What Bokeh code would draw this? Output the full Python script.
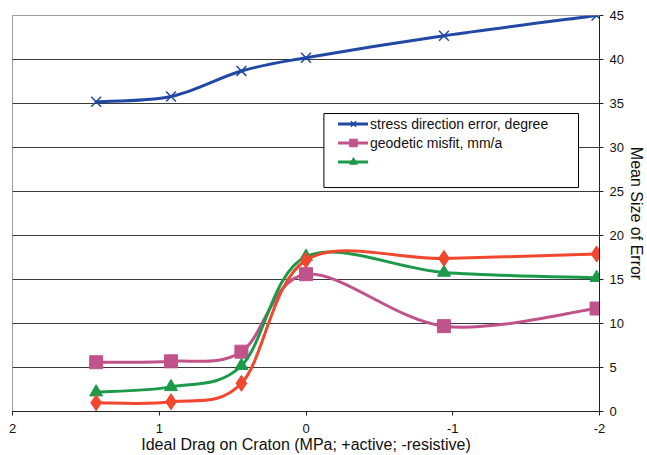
from bokeh.plotting import figure
from bokeh.models import Range1d, FixedTicker, Legend, LegendItem, BoxAnnotation
from bokeh.embed import file_html
from bokeh.resources import INLINE

# ---- data ----
drag = [1.43, 0.92, 0.44, 0.0, -0.94, -1.98]
stress_error = [35.2, 35.8, 38.7, 40.2, 42.7, 45.0]
geodetic_misfit = [5.6, 5.7, 6.8, 15.6, 9.7, 11.7]
green_series = [2.2, 2.8, 5.2, 17.6, 15.8, 15.2]
red_series = [1.0, 1.1, 3.2, 17.2, 17.4, 17.9]

x_ticks = [2, 1, 0, -1, -2]
x_tick_labels = ["2", "1", "0", "-1", "-2"]
y_ticks = [0, 5, 10, 15, 20, 25, 30, 35, 40, 45]

labels = ["stress direction error, degree", "geodetic misfit, mm/a", ""]
x_title = "Ideal Drag on Craton (MPa; +active; -resistive)"
y_title = "Mean Size of Error"

BLUE = "#2049a6"
PINK = "#c1538b"
GREEN = "#1c9a4a"
RED = "#f0472e"
FONT = "Liberation Sans"


def smooth_segments(xs, ys):
    """Catmull-Rom style bezier segments (like a spreadsheet 'smoothed line')."""
    n = len(xs)
    d = dict(x0=[], y0=[], x1=[], y1=[], cx0=[], cy0=[], cx1=[], cy1=[])
    for i in range(n - 1):
        a = i - 1 if i > 0 else i
        b = i + 2 if i + 2 < n else i + 1
        d["x0"].append(xs[i]); d["y0"].append(ys[i])
        d["x1"].append(xs[i + 1]); d["y1"].append(ys[i + 1])
        d["cx0"].append(xs[i] + (xs[i + 1] - xs[a]) / 6.0)
        d["cy0"].append(ys[i] + (ys[i + 1] - ys[a]) / 6.0)
        d["cx1"].append(xs[i + 1] - (xs[b] - xs[i]) / 6.0)
        d["cy1"].append(ys[i + 1] - (ys[b] - ys[i]) / 6.0)
    return d


p = figure(width=647, height=455, output_backend="svg", toolbar_location=None,
           x_range=Range1d(2, -2), y_range=Range1d(0, 45),
           y_axis_location="right",
           min_border_left=12, min_border_top=15, min_border_right=47, min_border_bottom=44)

p.outline_line_color = "#9a9a9a"
p.outline_line_width = 1
p.background_fill_color = "white"
p.border_fill_color = "white"

p.xgrid.visible = False
p.ygrid.ticker = FixedTicker(ticks=y_ticks)
p.ygrid.grid_line_color = "#3a3a3a"
p.ygrid.grid_line_width = 1

xa = p.xaxis[0]
xa.ticker = FixedTicker(ticks=x_ticks)
xa.major_label_overrides = {t: l for t, l in zip(x_ticks, x_tick_labels)}
xa.axis_label = x_title
ya = p.yaxis[0]
ya.ticker = FixedTicker(ticks=y_ticks)
ya.axis_label = y_title
for ax in (xa, ya):
    ax.axis_line_color = "#222222"
    ax.major_tick_line_color = "#222222"
    ax.major_tick_in = 0
    ax.major_tick_out = 4
    ax.minor_tick_line_color = None
    ax.major_label_text_font = FONT
    ax.major_label_text_font_size = "13px"
    ax.major_label_text_color = "#111111"
    ax.axis_label_text_font = FONT
    ax.axis_label_text_font_size = "16px"
    ax.axis_label_text_font_style = "normal"
    ax.axis_label_text_color = "#111111"
xa.major_label_standoff = 8
xa.axis_label_standoff = 0
ya.major_label_standoff = 6
ya.axis_label_standoff = 1

series = [
    (stress_error, BLUE, "x", 14),
    (geodetic_misfit, PINK, "square", 13),
    (green_series, GREEN, "triangle", 13),
    (red_series, RED, "diamond", 16),
]

lines = []
scatters = []
for ys, col, marker, size in series:
    seg = smooth_segments(drag, ys)
    ln = p.bezier(x0=seg["x0"], y0=seg["y0"], x1=seg["x1"], y1=seg["y1"],
                  cx0=seg["cx0"], cy0=seg["cy0"], cx1=seg["cx1"], cy1=seg["cy1"],
                  line_color=col, line_width=3, line_cap="round")
    if marker == "x":
        r = p.scatter(drag, ys, marker=marker, size=size, line_color=col, line_width=1.5)
    else:
        r = p.scatter(drag, ys, marker=marker, size=size, fill_color=col, line_color=col)
    lines.append(ln)
    scatters.append(r)

# legend frame (white box with black border)
box = BoxAnnotation(left=-0.122, right=-1.857, top=33.86, bottom=25.45,
                    fill_color="white", fill_alpha=1.0,
                    line_color="black", line_width=1, line_alpha=1.0)
p.add_layout(box)

items = []
for ln, sc, lab in zip(lines[:3], scatters[:3], labels):
    items.append(LegendItem(label=lab, renderers=[ln, sc]))

legend = Legend(items=items, location=(326, 240), orientation="vertical",
                glyph_width=30, glyph_height=19, label_height=19, label_width=10,
                spacing=0, padding=0, margin=0, label_standoff=2,
                border_line_color=None, background_fill_alpha=0.0,
                label_text_font=FONT, label_text_font_size="14px",
                label_text_color="#111111")
p.add_layout(legend, "center")

open("out.html", "w").write(file_html(p, INLINE))
